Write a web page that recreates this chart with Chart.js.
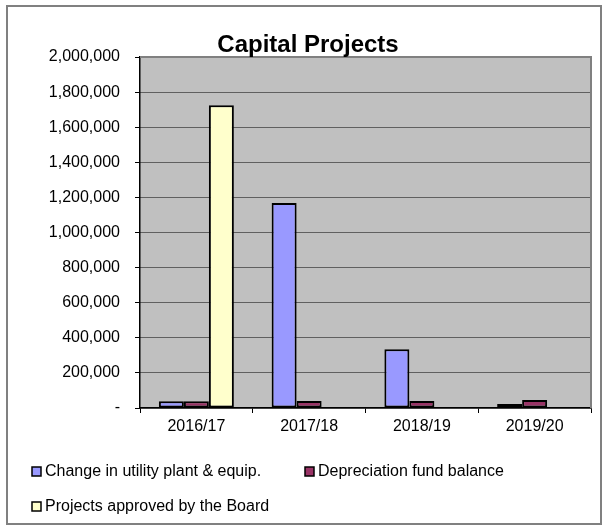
<!DOCTYPE html>
<html>
<head>
<meta charset="utf-8">
<script src="https://cdn.jsdelivr.net/npm/chart.js@4/dist/chart.umd.min.js"></script>
<style>
  html, body { margin: 0; padding: 0; background: #ffffff; }
  #wrap { position: relative; width: 608px; height: 531px; }
  canvas { display: block; }
</style>
</head>
<body>
<div id="wrap"><canvas id="c" width="608" height="531"></canvas></div>
<script>
const chartTitle = "Capital Projects";
const categories = ["2016/17", "2017/18", "2018/19", "2019/20"];
const seriesNames = ["Change in utility plant & equip.", "Depreciation fund balance", "Projects approved by the Board"];
const utilityPlant = [38000, 1168000, 335000, 23000];
const depreciationFund = [38000, 40000, 40000, 46000];
const boardApproved = [1725000, null, null, null];
const seriesColors = ["#9999FF", "#993366", "#FFFFCC"];
const yTicks = [0, 200000, 400000, 600000, 800000, 1000000, 1200000, 1400000, 1600000, 1800000, 2000000];

const FONT = "'Liberation Sans', Arial, sans-serif";

const framePlugin = {
  id: 'frame',
  beforeDraw(chart) {
    const ctx = chart.ctx, a = chart.chartArea;
    ctx.save();
    ctx.fillStyle = '#ffffff';
    ctx.fillRect(0, 0, chart.width, chart.height);
    ctx.fillStyle = '#C0C0C0';
    ctx.fillRect(a.left, a.top, a.right - a.left, a.bottom - a.top);
    ctx.restore();
  },
  afterDraw(chart) {
    const ctx = chart.ctx, a = chart.chartArea;
    ctx.save();
    ctx.strokeStyle = '#808080';
    ctx.lineWidth = 2;
    ctx.beginPath();
    ctx.moveTo(a.left, a.top);
    ctx.lineTo(a.right, a.top);
    ctx.lineTo(a.right, a.bottom);
    ctx.stroke();
    ctx.strokeStyle = '#808080';
    ctx.lineWidth = 2;
    ctx.strokeRect(7, 6, 594, 518);
    ctx.fillStyle = '#000000';
    ctx.font = "bold 24px " + FONT;
    ctx.textAlign = 'center';
    ctx.textBaseline = 'alphabetic';
    ctx.fillText(chartTitle, 308, 52);
    const items = [
      { x: 32, y: 472, i: 0 },
      { x: 305, y: 472, i: 1 },
      { x: 32, y: 507, i: 2 }
    ];
    ctx.font = "16px " + FONT;
    ctx.textAlign = 'left';
    ctx.textBaseline = 'middle';
    items.forEach(it => {
      const ds = chart.data.datasets[it.i];
      ctx.fillStyle = ds.backgroundColor;
      ctx.fillRect(it.x, it.y - 5, 9, 9);
      ctx.strokeStyle = '#000000';
      ctx.lineWidth = 1.5;
      ctx.strokeRect(it.x, it.y - 5, 9, 9);
      ctx.fillStyle = '#000000';
      ctx.fillText(ds.label, it.x + 13, it.y);
    });
    ctx.restore();
  }
};

new Chart(document.getElementById('c'), {
  type: 'bar',
  data: {
    labels: categories,
    datasets: [
      { label: seriesNames[0], data: utilityPlant, backgroundColor: seriesColors[0] },
      { label: seriesNames[1], data: depreciationFund, backgroundColor: seriesColors[1] },
      { label: seriesNames[2], data: boardApproved, backgroundColor: seriesColors[2] }
    ].map(d => Object.assign(d, { borderColor: '#000000', borderWidth: 2, borderSkipped: false,
      categoryPercentage: 0.665, barPercentage: 1.0 }))
  },
  options: {
    responsive: false,
    animation: false,
    devicePixelRatio: 1,
    layout: { padding: { top: 57, right: 17, left: 0, bottom: 0 } },
    plugins: {
      legend: { display: false },
      title: { display: false },
      tooltip: { enabled: false }
    },
    scales: {
      x: {
        offset: true,
        grid: {
          offset: true,
          drawOnChartArea: false,
          drawTicks: true,
          tickLength: 5,
          tickColor: '#000000',
          tickWidth: 1
        },
        border: { display: true, color: '#000000', width: 1.5 },
        ticks: { color: '#000000', font: { family: FONT, size: 16 }, padding: 4, maxRotation: 0 },
        afterFit(scale) { scale.height = 123; }
      },
      y: {
        min: 0,
        max: 2000000,
        afterBuildTicks(scale) { scale.ticks = yTicks.map(v => ({ value: v })); },
        grid: {
          color: '#000000',
          lineWidth: 1,
          tickLength: 5,
          tickColor: '#000000',
          tickBorderDash: [],
          drawTicks: true
        },
        border: { display: true, color: '#000000', width: 1.5, dash: [1, 1] },
        ticks: {
          color: '#000000',
          font: { family: FONT, size: 16 },
          padding: 15,
          callback: (v) => v === 0 ? '-' : Number(v).toLocaleString('en-US')
        },
        afterFit(scale) { scale.width = 140; }
      }
    }
  },
  plugins: [framePlugin]
});
</script>
</body>
</html>
